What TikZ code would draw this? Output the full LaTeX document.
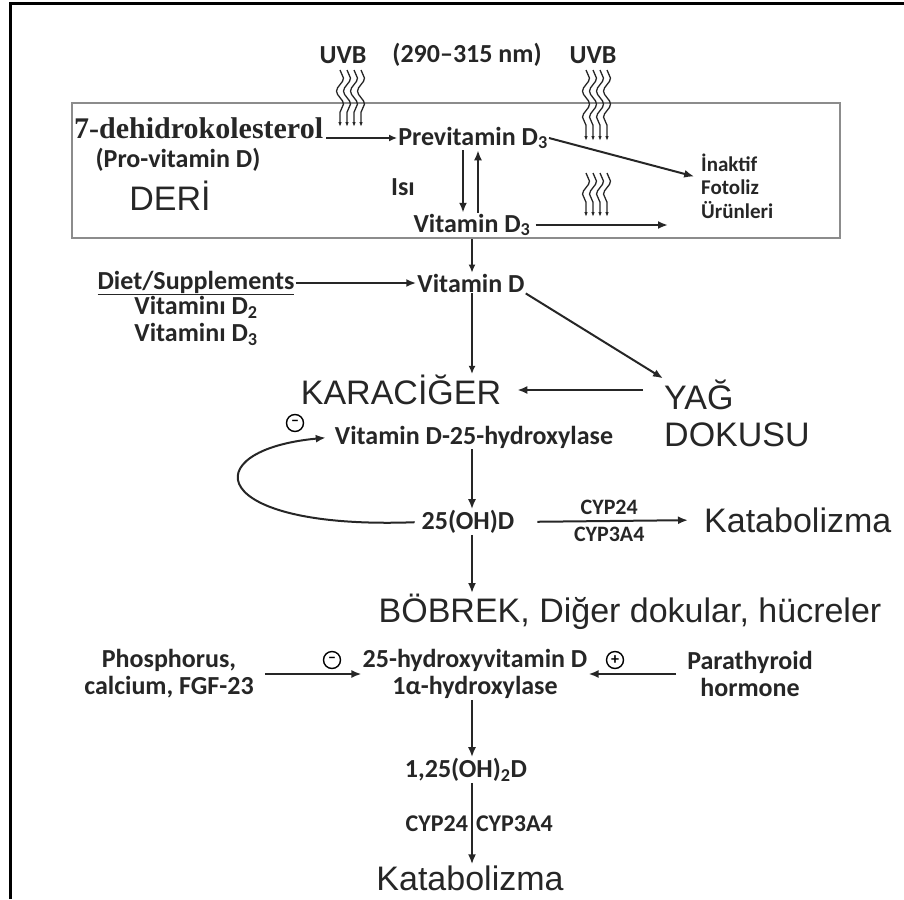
\documentclass[tikz,border=0pt]{standalone}
\usepackage{fontspec}
\setmainfont{Carlito}
\newfontfamily\arialfont{Liberation Sans}
\newfontfamily\timesfont{Liberation Serif}
\usetikzlibrary{arrows.meta, positioning, decorations.pathmorphing}

\begin{document}
\begin{tikzpicture}[x=1pt, y=-1pt,
    lbl/.style={font=\fontsize{26}{27}\selectfont\bfseries, inner sep=1pt, align=center, text=black!85},
    big/.style={font=\arialfont\fontsize{34}{37}\selectfont, inner sep=1pt, align=left, text=black!85},
    arrow/.style={-{Latex[length=10pt, width=8pt]}, line width=2pt, black!85},
    thin arrow/.style={-{Latex[length=8pt, width=7pt]}, line width=1.4pt, black!85},
    wave/.style={decorate, decoration={snake, amplitude=3.5pt, segment length=26pt, post length=6pt}, -{Latex[length=5pt, width=3.5pt]}, line width=1.3pt, black!85},
    sign/.style={circle, draw, line width=1.4pt, inner sep=0pt, minimum size=17pt, font=\fontsize{16}{16}\selectfont\bfseries}
]
    \useasboundingbox (0,0) rectangle (904,899);
    \draw[line width=3pt] (10,899) -- (10,4) -- (904,4);
    \coordinate (axis) at (472,0);

    % deri
    \node[draw=black!45, line width=2pt, minimum width=768pt, minimum height=135pt] (skin) at (456,170.5) {};
    \node[lbl] (uvbA) at (343,55) {UVB};
    \node[lbl] (nm)   at (467,55) {(290–315 nm)};
    \node[lbl] (uvbB) at (593,55) {UVB};
    \node[font=\timesfont\fontsize{30}{32}\selectfont\bfseries, anchor=west, inner sep=0pt, text=black!85] (dehy) at (74,128) {7-dehidrokolesterol};
    \node[lbl] (pro)  at (178,160) {(Pro-vitamin D)};
    \node[big] (deri) at (170,196) {DERİ};
    \node[lbl] (prev) at (473,138) {Previtamin D\textsubscript{3}};
    \node[lbl] (isi)  at (403,187) {Isı};
    \node[lbl] (vitDthree) at (472,225) {Vitamin D\textsubscript{3}};
    \node[lbl, align=left, anchor=west, font=\fontsize{21}{23.5}\selectfont\bfseries] (inaktif) at (700,186) {İnaktif\\Fotoliz\\Ürünleri};

    \foreach \dx in {0,7,14,21} {
        \draw[wave] (340+\dx,70) -- (340+\dx,127);
        \draw[wave] (586+\dx,70) -- (586+\dx,141);
        \draw[wave] (586+\dx,173) -- (586+\dx,217);
    }

    % karaciger
    \node[lbl] (vitD) at (471,283) {Vitamin D};
    \node[lbl] (diet) at (196,283) {\underline{Diet/Supplements}};
    \node[lbl, below=-1pt of diet] (dtwo) {Vitaminı D\textsubscript{2}\\Vitaminı D\textsubscript{3}};
    \node[big] (kara) at (401,390) {KARACİĞER};
    \node[big, anchor=west] (yag) at (663,413) {YAĞ\\DOKUSU};
    \node[lbl] (hydrox) at (474,437) {Vitamin D-25-hydroxylase};
    \node[sign] (minA) at (295,423) {–};
    \node[lbl] (ohd) at (468,522) {25(OH)D};
    \node[big, anchor=west] (katabA) at (703,520) {Katabolizma};

    % bobrek
    \node[big] (bobrek) at (630,612) {BÖBREK, Diğer dokular, hücreler};
    \node[lbl] (phos) at (169,674) {Phosphorus,\\calcium, FGF-23};
    \node[lbl] (enz)  at (475,674) {25-hydroxyvitamin D\\1α-hydroxylase};
    \node[sign] (minB) at (332,660) {–};
    \node[sign] (plus) at (615,660) {+};
    \node[lbl] (pth)  at (750,674) {Parathyroid\\hormone};
    \node[lbl] (ohtwo) at (466,770) {1,25(OH)\textsubscript{2}D};
    \node[big] (katabB) at (470,878) {Katabolizma};

    \draw[thin arrow, shorten <=3pt] (dehy.east |- prev.west) -- (prev.west);
    \draw[arrow] ([xshift=-10pt]prev.south) -- ([xshift=-10pt]prev.south |- vitDthree.north);
    \draw[arrow] ([xshift=5pt]prev.south |- vitDthree.north) -- ([xshift=5pt]prev.south);
    \draw[arrow, shorten >=6pt] (prev.east) -- ([yshift=8pt]inaktif.west);
    \draw[arrow, shorten <=4pt, shorten >=32pt] (vitDthree.east) -- (vitDthree.east -| inaktif.west);
    \draw[thin arrow] (axis |- skin.south) -- (axis |- vitD.north);
    \draw[arrow] (diet.east) -- (vitD.west);
    \draw[thin arrow] (axis |- vitD.south) -- (axis |- kara.north);
    \draw[arrow] (vitD.south east) -- (yag.north west);
    \draw[arrow, shorten <=20pt, shorten >=15pt] (yag.west |- kara.east) -- (kara.east);
    \draw[arrow] (axis |- hydrox.south) -- (axis |- ohd.north);
    \draw[arrow, shorten <=6pt, shorten >=8pt] (ohd.west) .. controls +(-215,8) and +(-140,13) .. (hydrox.west);
    \draw[arrow, shorten <=22pt, shorten >=15pt] (ohd.east) -- node[lbl, above=4pt, font=\fontsize{22}{24}\selectfont\bfseries]{CYP24} node[lbl, below=4pt, font=\fontsize{22}{24}\selectfont\bfseries]{CYP3A4} (katabA.west);
    \draw[arrow] (axis |- ohd.south) -- (axis |- bobrek.north);
    \draw[arrow, shorten <=10pt] (phos.east) -- (enz.west);
    \draw[arrow, shorten <=10pt] (pth.west) -- (enz.east);
    \draw[arrow] (axis |- enz.south) -- (axis |- ohtwo.north);
    \draw[arrow] (axis |- ohtwo.south) -- node[lbl, left=2pt, font=\fontsize{24}{26}\selectfont\bfseries]{CYP24} node[lbl, right=2pt, font=\fontsize{24}{26}\selectfont\bfseries]{CYP3A4} (axis |- katabB.north);
\end{tikzpicture}
\end{document}
